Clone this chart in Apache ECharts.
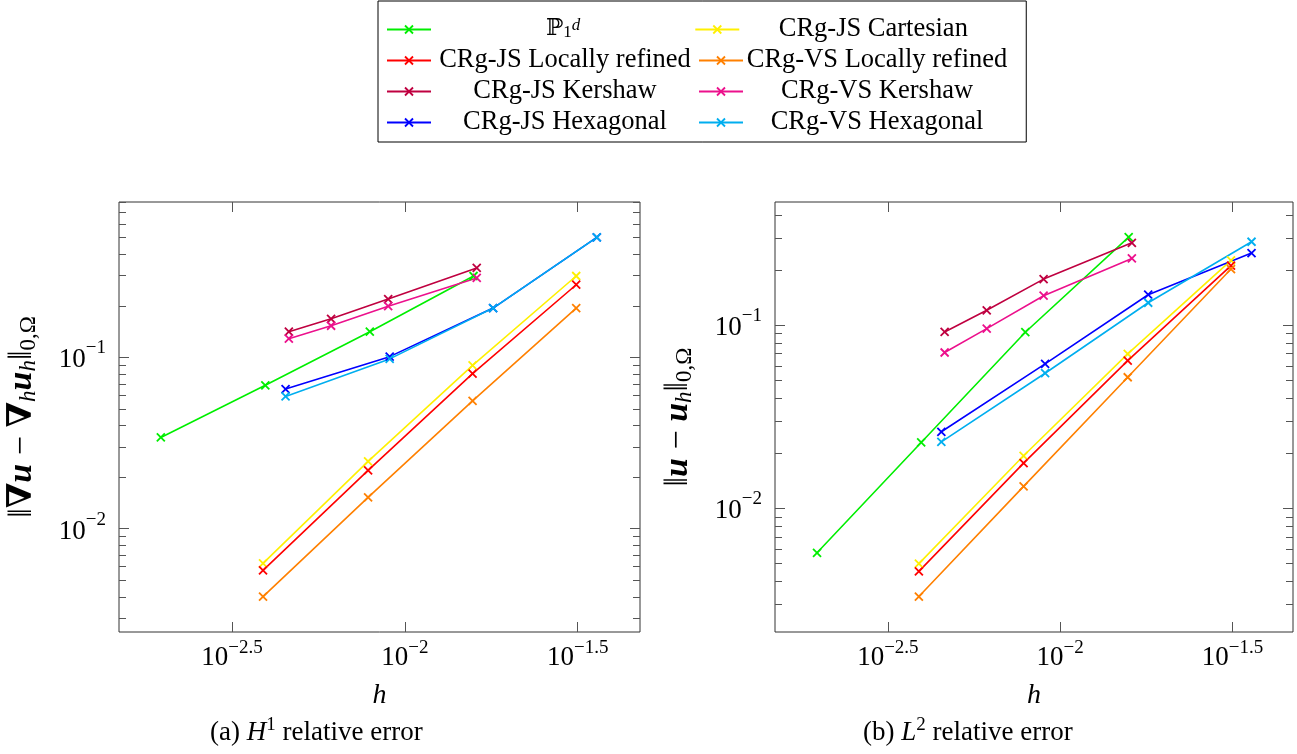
<!DOCTYPE html>
<html>
<head>
<meta charset="utf-8">
<script src="https://cdn.jsdelivr.net/npm/echarts@6/dist/echarts.min.js"></script>
<style>
html, body { margin: 0; padding: 0; background: #fff; }
#chart { width: 1297px; height: 754px; }
</style>
</head>
<body>
<div id="chart"></div>
<script>
// mesh sizes h of each mesh family
var h_p1 = [0.00197, 0.00395, 0.00792, 0.0158];
var h_cart = [0.00389, 0.00783, 0.0157, 0.0313];
var h_kersh = [0.00462, 0.00612, 0.00895, 0.01614];
var h_hexa = [0.00452, 0.00904, 0.0180, 0.0359];

// (a) H1 relative error
var h1_p1 = [0.0341, 0.0687, 0.1412, 0.2986];
var h1_js_cart = [0.00627, 0.0247, 0.0898, 0.2986];
var h1_js_loc = [0.00571, 0.02188, 0.0803, 0.2655];
var h1_vs_loc = [0.00401, 0.01524, 0.0558, 0.194];
var h1_js_kersh = [0.1412, 0.168, 0.219, 0.333];
var h1_vs_kersh = [0.1285, 0.153, 0.199, 0.291];
var h1_js_hexa = [0.0653, 0.101, 0.194, 0.502];
var h1_vs_hexa = [0.0592, 0.098, 0.194, 0.502];

// (b) L2 relative error
var l2_p1 = [0.00572, 0.0229, 0.0916, 0.3027];
var l2_js_cart = [0.00499, 0.01937, 0.0698, 0.226];
var l2_js_loc = [0.00453, 0.01766, 0.0641, 0.2114];
var l2_vs_loc = [0.0033, 0.01318, 0.052, 0.2028];
var l2_js_kersh = [0.0919, 0.1207, 0.1787, 0.2818];
var l2_vs_kersh = [0.0710, 0.0959, 0.145, 0.2317];
var l2_js_hexa = [0.0262, 0.0615, 0.1468, 0.2478];
var l2_vs_hexa = [0.0231, 0.0547, 0.1327, 0.2857];

var names = ["P1", "CRg-JS Cartesian", "CRg-JS Locally refined", "CRg-VS Locally refined",
  "CRg-JS Kershaw", "CRg-VS Kershaw", "CRg-JS Hexagonal", "CRg-VS Hexagonal"];
var colors = ["#00ee00", "#fff000", "#ff0000", "#ff8000", "#bf0040", "#ec108c", "#0000ff", "#00aeef"];
var meshes = [h_p1, h_cart, h_cart, h_cart, h_kersh, h_kersh, h_hexa, h_hexa];
var errs = [
  [h1_p1, h1_js_cart, h1_js_loc, h1_vs_loc, h1_js_kersh, h1_vs_kersh, h1_js_hexa, h1_vs_hexa],
  [l2_p1, l2_js_cart, l2_js_loc, l2_vs_loc, l2_js_kersh, l2_vs_kersh, l2_js_hexa, l2_vs_hexa]
];

var x_major = [-2.5, -2, -1.5];
var y_major = [-3, -2, -1, 0];

var FONT = "Liberation Serif, DejaVu Serif, serif";
var cross = "path://M0,0L10,10M0,10L10,0";

// minor ticks of a log axis: log10(k * 10^n), k = 2..9
var y_minor = [];
for (var n = -3; n <= 0; n++) {
  for (var k = 2; k <= 9; k++) y_minor.push(Math.log10(k) + n);
}

function powLabel(v) {
  var s = String(v).replace("-", "\u2212");
  return "{b|10}{s|" + s + "}";
}

var powRich = {
  b: { fontFamily: FONT, fontSize: 27, lineHeight: 27, color: "#000" },
  s: { fontFamily: FONT, fontSize: 19, lineHeight: 19, padding: [0, 0, 18, 0], color: "#000" }
};
var powRichY = {
  b: { fontFamily: FONT, fontSize: 27, lineHeight: 27, padding: [6, 0, 0, 0], color: "#000" },
  s: { fontFamily: FONT, fontSize: 19, lineHeight: 19, padding: [0, 0, 18, 0], color: "#000" }
};

var nameRich = {
  n: { fontFamily: FONT, fontSize: 34, color: "#000" },
  b: { fontFamily: FONT, fontSize: 34, fontWeight: "bold", color: "#000" },
  bi: { fontFamily: FONT, fontSize: 34, fontWeight: "bold", fontStyle: "italic", color: "#000" },
  sub: { fontFamily: FONT, fontSize: 23, fontStyle: "italic", padding: [13, 0, 0, 0], color: "#000" },
  subr: { fontFamily: FONT, fontSize: 23, padding: [13, 0, 0, 0], color: "#000" }
};

var grids = [
  { left: 119, top: 202, width: 521, height: 430, show: true, borderColor: "#333", borderWidth: 1 },
  { left: 775, top: 202, width: 518, height: 430, show: true, borderColor: "#333", borderWidth: 1 }
];
var xRange = [[-2.8265, -1.320], [-2.8275, -1.3246]];
var yRange = [[-2.603, -0.093], [-2.675, -0.327]];
var yNames = [
  "{n|\u2016}{b|\u2207}{bi|u}{n| \u2212 }{b|\u2207}{sub|h}{bi|u}{sub|h}{n|\u2016}{subr|0,\u03a9}",
  "{n|\u2016}{bi|u}{n| \u2212 }{bi|u}{sub|h}{n|\u2016}{subr|0,\u03a9}"
];

var tickStyle = { color: "#555", width: 1 };
var xAxes = [], yAxes = [];
for (var g = 0; g < 2; g++) {
  xAxes.push({
    gridIndex: g, type: "value", position: "bottom",
    min: xRange[g][0], max: xRange[g][1],
    axisLine: { show: false }, splitLine: { show: false },
    axisTick: { inside: true, length: 10, customValues: x_major, lineStyle: tickStyle },
    axisLabel: { customValues: x_major, margin: 12, formatter: powLabel, rich: powRich },
    name: "{i|h}", nameLocation: "middle", nameGap: 50,
    nameTextStyle: { rich: { i: { fontFamily: FONT, fontSize: 28, fontStyle: "italic", color: "#000" } } }
  });
  xAxes.push({
    gridIndex: g, type: "value", position: "top",
    min: xRange[g][0], max: xRange[g][1],
    axisLine: { show: false }, splitLine: { show: false },
    axisTick: { inside: true, length: 10, customValues: x_major, lineStyle: tickStyle },
    axisLabel: { show: false }
  });
  ["left", "right"].forEach(function (pos) {
    yAxes.push({
      gridIndex: g, type: "value", position: pos,
      min: yRange[g][0], max: yRange[g][1],
      axisLine: { show: false }, splitLine: { show: false },
      axisTick: { inside: true, length: 10, customValues: y_major, lineStyle: tickStyle },
      axisLabel: pos === "left"
        ? { customValues: y_major, margin: 13, formatter: powLabel, rich: powRichY }
        : { show: false },
      name: pos === "left" ? yNames[g] : "",
      nameLocation: "middle", nameRotate: 90, nameGap: 79,
      nameTextStyle: { rich: nameRich }
    });
    yAxes.push({
      gridIndex: g, type: "value", position: pos,
      min: yRange[g][0], max: yRange[g][1],
      axisLine: { show: false }, splitLine: { show: false },
      axisTick: { inside: true, length: 7, customValues: y_minor, lineStyle: tickStyle },
      axisLabel: { show: false }
    });
  });
}

var series = [];
for (var g = 0; g < 2; g++) {
  for (var i = 0; i < names.length; i++) {
    var hs = meshes[i], es = errs[g][i];
    series.push({
      name: names[i], type: "line",
      xAxisIndex: g * 2, yAxisIndex: g * 4,
      data: hs.map(function (h, j) { return [Math.log10(h), Math.log10(es[j])]; }),
      symbol: cross, symbolSize: 8,
      lineStyle: { color: colors[i], width: 1.6 },
      itemStyle: { color: colors[i], borderColor: colors[i], borderWidth: 1.8 },
      animation: false
    });
  }
}

var TW = 258;
var legendRich = {
  t: { fontFamily: FONT, fontSize: 26.5, lineHeight: 24, width: TW, align: "center", color: "#000" },
  pad: { fontSize: 10, lineHeight: 24, width: 110, align: "center" },
  p: { fontFamily: "DejaVu Serif, " + FONT, fontSize: 23, lineHeight: 24, align: "center", color: "#000" },
  lo: { fontFamily: FONT, fontSize: 17, lineHeight: 14, align: "center", verticalAlign: "bottom", color: "#000" },
  hi: { fontFamily: FONT, fontSize: 17, lineHeight: 14, fontStyle: "italic", align: "center", verticalAlign: "top", color: "#000" }
};

var chart = echarts.init(document.getElementById("chart"));
var option = {
  backgroundColor: "#fff",
  animation: false,
  title: [
    { text: "(a) {i|H}{s|1} relative error", left: 210, top: 716, padding: 0,
      textStyle: { fontFamily: FONT, fontSize: 27, fontWeight: "normal", color: "#000",
        rich: { i: { fontFamily: FONT, fontSize: 27, fontStyle: "italic", color: "#000" },
                s: { fontFamily: FONT, fontSize: 19, padding: [0, 0, 14, 0], color: "#000" } } } },
    { text: "(b) {i|L}{s|2} relative error", left: 863, top: 716, padding: 0,
      textStyle: { fontFamily: FONT, fontSize: 27, fontWeight: "normal", color: "#000",
        rich: { i: { fontFamily: FONT, fontSize: 27, fontStyle: "italic", color: "#000" },
                s: { fontFamily: FONT, fontSize: 19, padding: [0, 0, 14, 0], color: "#000" } } } }
  ],
  legend: {
    data: names, left: 378, top: 1, width: 690,
    orient: "horizontal", itemWidth: 44, itemHeight: 10, itemGap: 4,
    padding: [15, 19, 6, 8],
    borderColor: "#000", borderWidth: 1,
    itemStyle: { borderWidth: 1.8 },
    formatter: function (name) {
      if (name === "P1") return "{pad|}{p|\u2119}{lo|1}{hi|d}{pad|}";
      return "{t|" + name + "}";
    },
    textStyle: { rich: legendRich }
  },
  grid: grids,
  xAxis: xAxes,
  yAxis: yAxes,
  series: series
};
chart.setOption(option);
</script>
</body>
</html>
